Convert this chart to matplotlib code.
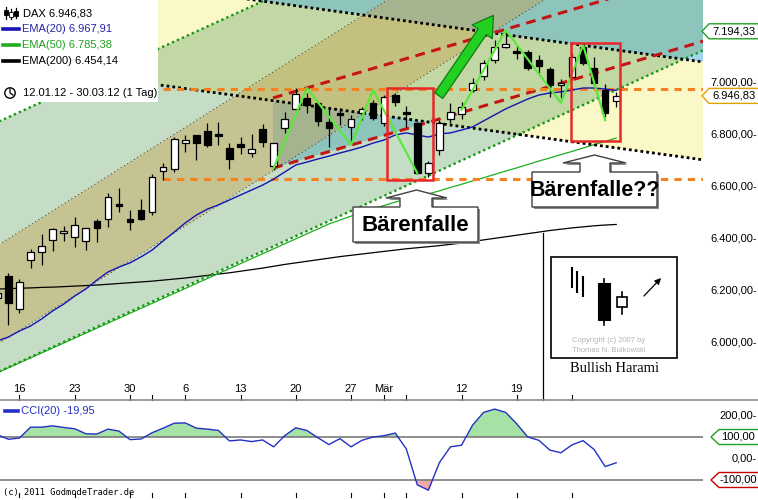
import matplotlib
matplotlib.use("Agg")
import matplotlib.pyplot as plt
from matplotlib.patches import Rectangle, Polygon, FancyArrowPatch, Circle
from matplotlib.lines import Line2D
import matplotlib.transforms as mtransforms

plt.rcParams['font.family'] = ['Liberation Sans', 'DejaVu Sans']

# ---------------- data ----------------
dates = ['12.01', '13.01', '16.01', '17.01', '18.01', '19.01', '20.01', '23.01', '24.01', '25.01',
         '26.01', '27.01', '30.01', '31.01', '01.02', '02.02', '03.02', '06.02', '07.02', '08.02',
         '09.02', '10.02', '13.02', '14.02', '15.02', '16.02', '17.02', '20.02', '21.02', '22.02',
         '23.02', '24.02', '27.02', '28.02', '29.02', '01.03', '02.03', '05.03', '06.03', '07.03',
         '08.03', '09.03', '12.03', '13.03', '14.03', '15.03', '16.03', '19.03', '20.03', '21.03',
         '22.03', '23.03', '26.03', '27.03', '28.03', '29.03', '30.03']

opens = [6172, 6257, 6129, 6318, 6348, 6393, 6423, 6406, 6391, 6467,
         6475, 6533, 6475, 6510, 6501, 6658, 6665, 6765, 6797, 6812,
         6801, 6746, 6762, 6727, 6819, 6678, 6823, 6897, 6940, 6918,
         6848, 6880, 6826, 6880, 6918, 6842, 6950, 6885, 6842, 6653,
         6739, 6858, 6876, 6969, 7023, 7084, 7133, 7120, 7114, 7084,
         7049, 6989, 7020, 7135, 7052, 6969, 6928]
highs = [6205, 6268, 6244, 6359, 6416, 6440, 6449, 6484, 6439, 6474,
         6576, 6593, 6510, 6551, 6648, 6688, 6790, 6797, 6797, 6842,
         6848, 6765, 6788, 6801, 6839, 6765, 6886, 6976, 6959, 6921,
         6895, 6899, 6874, 6903, 6931, 6950, 6959, 6908, 6848, 6699,
         6854, 6918, 6925, 7016, 7084, 7161, 7194, 7142, 7123, 7103,
         7059, 7010, 7110, 7148, 7097, 6992, 6963]
lows = [6150, 6069, 6114, 6286, 6299, 6352, 6392, 6369, 6356, 6386,
        6446, 6503, 6433, 6471, 6490, 6625, 6656, 6733, 6701, 6750,
        6759, 6666, 6723, 6714, 6750, 6663, 6806, 6893, 6880, 6831,
        6752, 6835, 6765, 6854, 6854, 6831, 6908, 6829, 6648, 6637,
        6720, 6842, 6857, 6963, 7008, 7072, 7129, 7088, 7046, 7033,
        6944, 6938, 7008, 7065, 6989, 6867, 6903]
closes = [6193, 6152, 6233, 6350, 6372, 6436, 6429, 6454, 6439, 6439,
          6558, 6526, 6462, 6475, 6635, 6673, 6780, 6778, 6767, 6759,
          6794, 6705, 6752, 6742, 6771, 6765, 6857, 6953, 6912, 6852,
          6823, 6872, 6857, 6895, 6863, 6944, 6925, 6876, 6650, 6689,
          6844, 6886, 6905, 6997, 7072, 7133, 7146, 7110, 7052, 7063,
          6989, 6997, 7095, 7072, 6997, 6882, 6946.83]

ema20 = [6008, 6023, 6046, 6065, 6092, 6123, 6149, 6180, 6207, 6241,
         6272, 6291, 6307, 6330, 6356, 6391, 6425, 6460, 6490, 6513,
         6529, 6548, 6567, 6586, 6605, 6628, 6655, 6682, 6693, 6705,
         6716, 6728, 6739, 6751, 6766, 6778, 6797, 6805, 6797, 6789,
         6801, 6805, 6816, 6828, 6851, 6874, 6897, 6916, 6935, 6950,
         6958, 6962, 6969, 6977, 6977, 6973, 6967.91]
ema50 = [5886, 5905, 5924, 5943, 5962, 5981, 6000, 6019, 6038, 6057,
         6076, 6095, 6114, 6133, 6152, 6171, 6190, 6209, 6228, 6247,
         6266, 6285, 6304, 6323, 6342, 6361, 6380, 6399, 6418, 6437,
         6456, 6471, 6486, 6500, 6514, 6527, 6540, 6551, 6559, 6571,
         6583, 6596, 6608, 6621, 6633, 6646, 6659, 6671, 6684, 6697,
         6709, 6722, 6734, 6747, 6760, 6772, 6785.38]
ema200 = [6207, 6208, 6210, 6211, 6213, 6214, 6216, 6218, 6220, 6222,
          6225, 6228, 6231, 6234, 6237, 6241, 6245, 6249, 6254, 6259,
          6264, 6269, 6275, 6281, 6287, 6294, 6301, 6307, 6313, 6319,
          6325, 6331, 6336, 6341, 6346, 6351, 6356, 6361, 6365, 6369,
          6373, 6378, 6383, 6389, 6395, 6401, 6407, 6413, 6419, 6425,
          6431, 6436, 6441, 6445, 6449, 6452, 6454.14]
cci20 = [110.7, 89.3, 95.4, 145.8, 145.8, 151.9, 144.3, 138.2, 115.3, 113.7,
         136.6, 127.5, 87.8, 90.8, 119.8, 141.2, 164.1, 165.6, 141.2, 136.6,
         130.5, 81.7, 86.3, 78.6, 86.3, 54.2, 106.1, 142.7, 130.5, 96.9,
         64.9, 92.4, 54.2, 84.7, 100.0, 106.1, 118.3, 45.0, -122.9, -147.3,
         -19.1, 54.2, 61.8, 155.0, 214.5, 229.8, 214.5, 161.0, 100.0, 84.7,
         38.9, 26.7, 63.4, 83.2, 42.0, -37.4, -19.95]

tick_dates = ['16.01', '23.01', '30.01', '01.02', '06.02', '13.02', '20.02', '27.02',
              '01.03', '05.03', '12.03', '19.03', '26.03']
tick_texts = ['16', '23', '30', '', '6', '13', '20', '27', 'Mär', '', '12', '19', '']

price_ticks = [7000, 6800, 6600, 6400, 6200, 6000]
last_high = 7194.33
last_close = 6946.83

# trend lines: (bar index, price) end points
desc_upper = [(0, 7450), (64, 7076)]
desc_lower = [(0, 7074), (64, 6701)]
green_upper = [(0, 6846), (30, 7425)]
green_lower = [(0, 5888), (64, 7124)]
tan_upper = [(0, 6373), (40, 7440)]
tan_lower = [(0, 5995), (60, 7595)]
red_upper = [(24.94, 6939), (64, 7427)]
red_lower = [(24.94, 6670), (64, 7158)]
orange_upper = [(15, 6975), (64, 6975)]
orange_lower = [(15, 6630), (64, 6630)]
zig1_x = [25, 28, 32, 34, 38]
zig1_y = [6670, 6977, 6759, 6969, 6651]
zig2_x = [42, 46, 51, 53, 55]
zig2_y = [6893, 7199, 6920, 7142, 6854]
box1 = [(35.26, 6625), (39.42, 6977)]
box2 = [(51.9, 6774), (56.35, 7149)]
big_arrow = [(39.8, 6939), (45.03, 7264)]

# ---------------- figure ----------------
W, H = 758, 500
fig = plt.figure(figsize=(W / 100, H / 100), dpi=100)
fig.patch.set_facecolor('white')
PIX = mtransforms.Affine2D().scale(1 / W, -1 / H).translate(0, 1) + fig.transFigure

ax = fig.add_axes([0, 100 / H, 703 / W, 400 / H])
cax = fig.add_axes([0, 3 / H, 703 / W, 97 / H])
XLIM = (0.2353, 63.855)
PLIM = (5781.6, 7314.2)
CLIM = (-179.1, 272.1)
ax.set_xlim(*XLIM); ax.set_ylim(*PLIM)
cax.set_xlim(*XLIM); cax.set_ylim(*CLIM)
for a in (ax, cax):
    a.set_axis_off()

xs = list(range(len(dates)))


def tl(line, xv):
    (x0, y0), (x1, y1) = line
    return y0 + (y1 - y0) * (xv - x0) / (x1 - x0)


def p2py(p):
    return (PLIM[1] - p) / (PLIM[1] - PLIM[0]) * 400


def c2py(c):
    return 400 + (CLIM[1] - c) / (CLIM[1] - CLIM[0]) * 97


def i2px(i):
    return (i - XLIM[0]) / (XLIM[1] - XLIM[0]) * 703


def fline(xx, yy, **kw):
    fig.add_artist(Line2D(xx, yy, transform=PIX, **kw))


def fpoly(pts, **kw):
    fig.add_artist(Polygon(pts, closed=True, transform=PIX, **kw))


def ftext(x, y, s, **kw):
    fig.text(x, y, s, transform=PIX, **kw)


def de(v):
    s = f"{v:,.2f}"
    return s.replace(",", "X").replace(".", ",").replace("X", ".")


# ---------------- background bands ----------------
XA, XB = -1, 65
TOPL = [(0, 9000), (1, 9000)]


def band(lo, hi, xa=XA, xb=XB, **kw):
    poly = [(xa, tl(lo, xa)), (xb, tl(lo, xb)), (xb, tl(hi, xb)), (xa, tl(hi, xa))]
    ax.add_patch(Polygon(poly, closed=True, lw=0, **kw))


band(desc_lower, desc_upper, fc='#fbf8c8', zorder=0.5)
band(desc_upper, TOPL, fc='#a2d6f0', zorder=0.5)
# wedge between red lower line and descending lower line
xa = red_lower[0][0]
sa = (tl(desc_lower, 1) - tl(desc_lower, 0)) - (tl(red_lower, 1) - tl(red_lower, 0))
xi = xa + (tl(red_lower, xa) - tl(desc_lower, xa)) / sa
ax.add_patch(Polygon([(xa, tl(red_lower, xa)), (xi, tl(red_lower, xi)), (xa, tl(desc_lower, xa))],
                     closed=True, lw=0, fc='#a2d6f0', zorder=0.6))
band(green_lower, green_upper, fc=(110 / 255, 170 / 255, 110 / 255), alpha=0.40, zorder=0.7)
band(tan_lower, tan_upper, fc=(200 / 255, 160 / 255, 80 / 255), alpha=0.42, zorder=0.8)

# moving averages (below the dotted channel lines)
ax.plot(xs, ema200, color='black', lw=0.9, zorder=1.5)
ax.plot(xs, ema50, color='#1fae1f', lw=0.9, zorder=1.5)
ax.plot(xs, ema20, color='#1414b4', lw=1.0, zorder=3)

# dotted channel lines
for ln in (green_upper, green_lower):
    ax.plot([XA, XB], [tl(ln, XA), tl(ln, XB)], color='#149614', lw=1.7,
            ls=(0, (1, 1.3)), zorder=2)
for ln in (tan_upper, tan_lower):
    ax.plot([XA, XB], [tl(ln, XA), tl(ln, XB)], color='#333333', lw=0.7,
            ls=(0, (1, 3)), zorder=2)
for ln in (desc_upper, desc_lower):
    ax.plot([XA, XB], [tl(ln, XA), tl(ln, XB)], color='black', lw=2.0,
            ls=(0, (1, 1.1)), zorder=2)
for ln in (red_upper, red_lower):
    ax.plot([ln[0][0], ln[1][0]], [ln[0][1], ln[1][1]], color='#c41414', lw=2.2,
            ls=(0, (3.2, 2.2)), zorder=2.2)
for ln in (orange_upper, orange_lower):
    ax.plot([ln[0][0], ln[1][0]], [ln[0][1], ln[1][1]], color='#f58220', lw=2.2,
            ls=(0, (2.4, 2.0)), zorder=2.2)

# candles
for i, (o, h, l, c) in enumerate(zip(opens, highs, lows, closes)):
    ax.plot([i, i], [l, h], color='black', lw=0.9, zorder=5, solid_capstyle='butt')
    bot = min(o, c)
    ht = max(abs(c - o), 1.5)
    fc = 'white' if c >= o else 'black'
    ax.add_patch(Rectangle((i - 0.3, bot), 0.6, ht, fc=fc, ec='black', lw=0.9, zorder=6))

# zigzag
ax.plot(zig1_x, zig1_y, color='#5ae83c', lw=1.6, zorder=7)
ax.plot(zig2_x, zig2_y, color='#5ae83c', lw=1.6, zorder=7)

# red boxes
for (bx0, by0), (bx1, by1) in (box1, box2):
    ax.add_patch(Rectangle((bx0, by0), bx1 - bx0, by1 - by0, fill=False, ec='#e82828',
                           lw=1.8, zorder=8))

# big green arrow
ax.add_patch(FancyArrowPatch(big_arrow[0], big_arrow[1],
                             arrowstyle='simple,head_width=1.35,head_length=1.1,tail_width=0.55',
                             mutation_scale=13, fc='#22d022', ec='#0f7a0f', lw=0.9, zorder=9))


# ---------------- callouts ----------------
def callout(bx0, by0, bx1, by1, sx0, sx1, wx0, wx1, py, wy, text, fs):
    pts = [(bx0, by0), (sx0, by0), (sx0, wy), (wx0, wy), ((wx0 + wx1) / 2, py), (wx1, wy),
           (sx1, wy), (sx1, by0), (bx1, by0), (bx1, by1), (bx0, by1)]
    fpoly([(px + 2, py_ + 2) for px, py_ in pts], fc='#8a8a8a', ec='none', zorder=4)
    fpoly(pts, fc='white', ec='#404040', lw=1.0, zorder=4.1)
    ftext((bx0 + bx1) / 2, (by0 + by1) / 2 + 1, text, ha='center', va='center', fontsize=fs,
          fontweight='bold', zorder=4.2)


callout(353, 207, 478, 242, 400, 432, 386, 447, 190, 198, 'Bärenfalle', 16)
callout(532, 172, 657, 207, 580, 610, 563, 626, 155, 163, 'Bärenfalle??', 15.5)

# ---------------- Bullish Harami inset ----------------
fline([543, 543], [233, 400], color='black', lw=0.9, zorder=4)
fpoly([(551, 257), (677, 257), (677, 358), (551, 358)], fc='white', ec='black', lw=1.2, zorder=4)
for wx, wy0, wy1 in ((572, 268, 287), (577, 272, 292), (583, 277, 296)):
    fline([wx, wx], [wy0, wy1], color='black', lw=1.5, zorder=4.2)
fline([604, 604], [279, 325], color='black', lw=1.2, zorder=4.2)
fpoly([(598, 283), (610, 283), (610, 320), (598, 320)], fc='black', ec='black', lw=0.8, zorder=4.3)
fline([622, 622], [292, 314], color='black', lw=1.2, zorder=4.2)
fpoly([(617, 297), (627, 297), (627, 307), (617, 307)], fc='white', ec='black', lw=1.2, zorder=4.3)
fig.add_artist(FancyArrowPatch((642, 298), (663, 276), transform=PIX, arrowstyle='-|>',
                               mutation_scale=9, color='black', lw=0.9, zorder=4.3))
ftext(572, 341, 'Copyright (c) 2007 by', fontsize=5.5, color='#b4b4b4', va='center', zorder=4.3)
ftext(572, 351, 'Thomas N. Bulkowski', fontsize=5.5, color='#b4b4b4', va='center', zorder=4.3)
ftext(615, 368, 'Bullish Harami', fontsize=10.5, family='Liberation Serif', ha='center',
      va='center', zorder=4.3)

# ---------------- legend ----------------
fpoly([(0, 0), (158, 0), (158, 102), (0, 102)], fc='white', ec='none', zorder=5)
for cx, y0, y1, b0, b1, f in ((6, 7, 19, 10, 15, 'black'), (11, 9, 19, 12, 17, 'white'),
                              (16, 8, 18, 11, 16, 'black')):
    fline([cx, cx], [y0, y1], color='black', lw=0.9, zorder=5.1)
    fpoly([(cx - 1.8, b0), (cx + 1.8, b0), (cx + 1.8, b1), (cx - 1.8, b1)], fc=f, ec='black',
          lw=0.6, zorder=5.2)
ftext(23, 13, 'DAX ' + de(closes[-1]), fontsize=8, va='center', zorder=5.3)
for yy, col, tcol, lab, val in ((29, '#1414b4', '#2424a8', 'EMA(20)', ema20[-1]),
                                (45, '#1fae1f', '#1fa01f', 'EMA(50)', ema50[-1]),
                                (61, 'black', 'black', 'EMA(200)', ema200[-1])):
    fline([3, 19], [yy, yy], color=col, lw=2.6, zorder=5.1)
    ftext(22, yy, f'{lab} {de(val)}', fontsize=8, color=tcol, va='center', zorder=5.3)
fig.add_artist(Circle((10, 93), 5.2, transform=PIX, fill=False, ec='black', lw=1.0, zorder=5.2))
fline([10, 10, 13], [89, 93, 95], color='black', lw=0.9, zorder=5.3)
ftext(23, 93, f'{dates[0]}.12 - {dates[-1]}.12 (1 Tag)', fontsize=8, va='center', zorder=5.3)

# ---------------- right price scale ----------------
for v in price_ticks:
    ftext(757, p2py(v), de(v) + '-', ha='right', va='center', fontsize=8, zorder=5)


def tagbox(yc, text, ec):
    fpoly([(702, yc), (709, yc - 7.5), (760, yc - 7.5), (760, yc + 7.5), (709, yc + 7.5)],
          fc='white', ec=ec, lw=1.0, zorder=5.5)
    ftext(734, yc, text, ha='center', va='center', fontsize=8, zorder=5.6)


tagbox(p2py(last_high), de(last_high), '#22a022')
tagbox(p2py(last_close), de(last_close), '#e0a000')

# ---------------- date axis ----------------
for d, t in zip(tick_dates, tick_texts):
    px = i2px(dates.index(d))
    fline([px, px], [395, 400], color='black', lw=0.8, zorder=5)
    fline([px, px], [493, 497], color='black', lw=0.8, zorder=5)
    if t:
        ftext(px, 389, t, ha='center', va='center', fontsize=8, zorder=5)

# ---------------- CCI panel ----------------
fline([0, 758], [400, 400], color='#8c8c8c', lw=1.2, zorder=5)
cax.axhline(100, color='#7a7a7a', lw=1.2, zorder=1)
cax.axhline(-100, color='#7a7a7a', lw=1.2, zorder=1)
cax.fill_between(xs, cci20, 100, where=[c >= 100 for c in cci20], interpolate=True,
                 color='#a6e2a6', lw=0, zorder=0.5)
cax.fill_between(xs, cci20, -100, where=[c <= -100 for c in cci20], interpolate=True,
                 color='#f0a8a8', lw=0, zorder=0.5)
cax.plot(xs, cci20, color='#2431c4', lw=1.0, zorder=2)

fline([5, 18], [411, 411], color='#2431c4', lw=2.6, zorder=5)
ftext(21, 411, 'CCI(20) ' + de(cci20[-1]), fontsize=8, color='#2431c4', va='center', zorder=5)
ftext(3, 493, '(c) 2011 GodmodeTrader.de', fontsize=6.3, family='DejaVu Sans Mono',
      va='center', zorder=5)

ftext(757, c2py(200), '200,00-', ha='right', va='center', fontsize=8, zorder=5)
ftext(757, c2py(0), '0,00-', ha='right', va='center', fontsize=8, zorder=5)
for lvl, ec in ((100, '#22a022'), (-100, '#c00000')):
    yc = c2py(lvl)
    fpoly([(711, yc), (719, yc - 7.5), (760, yc - 7.5), (760, yc + 7.5), (719, yc + 7.5)],
          fc='white', ec=ec, lw=1.0, zorder=5.5)
    ftext(738, yc, de(lvl), ha='center', va='center', fontsize=8, zorder=5.6)

fig.savefig('out.png', dpi=100)
